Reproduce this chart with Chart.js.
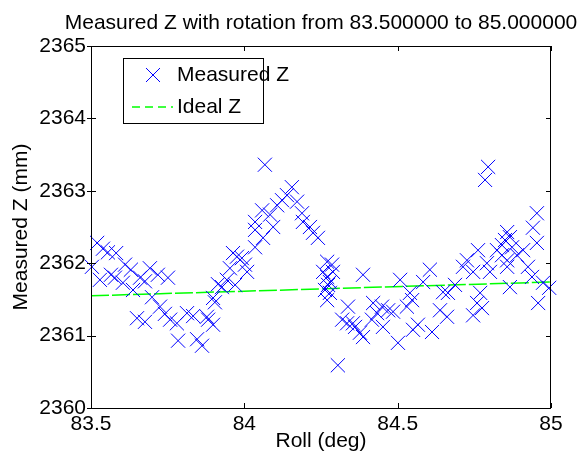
<!DOCTYPE html>
<html lang="en">
  <head>
    <meta charset="UTF-8" />
    <title>Measured Z</title>
    <style>
      body { margin: 0; background: #fff; }
    </style>
  </head>
  <body>
    <canvas id="myChart" width="584" height="461"></canvas>
    <script src="https://cdn.jsdelivr.net/npm/chart.js@4.4.1/dist/chart.umd.min.js"></script>
    <script>
      // values
      const rollDeg = [
        83.520, 83.539, 83.582, 83.503, 83.529, 83.565, 83.578, 83.611, 83.630, 83.604,
        83.637, 83.676, 83.699, 83.718, 83.751, 83.650, 83.676, 83.725, 83.741, 83.758,
        83.780, 83.784, 83.813, 83.833, 83.846, 83.862, 83.878, 83.898, 83.898, 83.882,
        83.904, 83.914, 83.927, 83.943, 83.953, 83.970, 83.963, 83.976, 83.992, 84.002,
        84.009, 84.035, 84.061, 84.035, 84.035, 84.058, 84.084, 84.094, 84.067, 84.107,
        84.123, 84.139, 84.155, 84.172, 84.188, 84.191, 84.214, 84.224, 84.240, 83.555,
        83.660, 83.692,
        84.270, 84.286, 84.257, 84.289, 84.270, 84.279, 84.263, 84.279, 84.270, 84.273,
        84.387, 84.338, 84.319, 84.335, 84.354, 84.361, 84.377, 84.387, 84.305, 84.420,
        84.449, 84.433, 84.469, 84.416, 84.452, 84.501, 84.508, 84.547, 84.530, 84.550,
        84.566, 84.485, 84.612, 84.605, 84.583, 84.540, 84.638, 84.661, 84.648, 84.664,
        84.687, 84.713, 84.726, 84.746, 84.746, 84.759, 84.769, 84.775, 84.762, 84.791,
        84.801, 84.824, 84.840, 84.850, 84.857, 84.866, 84.857, 84.857, 84.866, 84.889,
        84.909, 84.925, 84.941, 84.954, 84.954, 84.938, 84.974, 84.958, 84.785, 84.795,
        84.994, 84.840, 84.873
      ];
      const measuredZ = [
        2362.28, 2362.20, 2362.14, 2361.95, 2361.77, 2361.84, 2361.80, 2361.98, 2361.91, 2361.73,
        2361.63, 2361.75, 2361.53, 2361.84, 2361.80, 2361.24, 2361.19, 2361.40, 2361.30, 2361.22,
        2361.17, 2360.93, 2361.31, 2361.27, 2360.95, 2360.86, 2361.26, 2361.15, 2361.52, 2361.22,
        2361.46, 2361.71, 2361.67, 2361.77, 2361.93, 2361.70, 2362.14, 2362.09, 2362.07, 2361.98,
        2361.88, 2362.22, 2362.35, 2362.46, 2362.57, 2362.73, 2362.67, 2362.50, 2363.36, 2362.80,
        2362.87, 2362.94, 2363.05, 2362.85, 2362.69, 2362.57, 2362.50, 2362.42, 2362.35, 2362.15,
        2361.80, 2361.93,
        2362.02, 2361.98, 2361.88, 2361.88, 2361.81, 2361.74, 2361.63, 2361.59, 2361.49, 2361.70,
        2361.84, 2361.40, 2361.22, 2361.17, 2361.17, 2361.12, 2361.04, 2360.98, 2360.59, 2361.45,
        2361.40, 2361.31, 2361.35, 2361.22, 2361.12, 2360.90, 2361.77, 2361.49, 2361.40, 2361.08,
        2361.15, 2361.33, 2361.05, 2361.91, 2361.74, 2361.59, 2361.35, 2361.26, 2361.60, 2361.59,
        2361.70, 2361.95, 2362.04, 2361.88, 2361.28, 2361.45, 2361.59, 2361.38, 2362.18, 2362.00,
        2361.88, 2362.18, 2362.11, 2362.32, 2362.43, 2362.36, 2362.04, 2361.95, 2361.67, 2362.11,
        2362.18, 2361.95, 2362.49, 2362.69, 2362.28, 2361.81, 2361.73, 2361.45, 2363.15, 2363.33,
        2361.66, 2362.25, 2362.22
      ];
      const idealRoll = [83.5, 85];
      const idealZ = [2361.55, 2361.74];

      const xTicks = [83.5, 84, 84.5, 85];
      const yTicks = [2360, 2361, 2362, 2363, 2364, 2365];

      const chartTitle = "Measured Z with rotation from 83.500000 to 85.000000";
      const FONT = "'Liberation Sans', Arial, Helvetica, sans-serif";

      const measuredPts = rollDeg.map((x, i) => ({ x: x, y: measuredZ[i] }));
      const idealPts = idealRoll.map((x, i) => ({ x: x, y: idealZ[i] }));

      // MATLAB-ish box, inward ticks, title and legend
      const matlabBox = {
        id: "matlabBox",
        afterDraw(chart) {
          const { ctx, chartArea: a, scales } = chart;
          ctx.save();
          ctx.strokeStyle = "#000";
          ctx.lineWidth = 1;
          ctx.strokeRect(a.left + 0.5, a.top + 0.5, a.right - a.left - 1, a.bottom - a.top);

          ctx.beginPath();
          xTicks.forEach((v) => {
            const px = Math.round(scales.x.getPixelForValue(v)) + 0.5;
            ctx.moveTo(px, a.bottom);
            ctx.lineTo(px, a.bottom - 5);
            ctx.moveTo(px, a.top);
            ctx.lineTo(px, a.top + 5);
          });
          yTicks.forEach((v) => {
            const py = Math.round(scales.y.getPixelForValue(v)) + 0.5;
            ctx.moveTo(a.left - 4, py);
            ctx.lineTo(a.left + 5, py);
            ctx.moveTo(a.right, py);
            ctx.lineTo(a.right - 5, py);
          });
          ctx.stroke();

          // title
          ctx.fillStyle = "#000";
          ctx.font = "21px " + FONT;
          ctx.textAlign = "center";
          ctx.textBaseline = "middle";
          ctx.fillText(chartTitle, (a.left + a.right) / 2, 23);

          // legend
          const ds = chart.data.datasets;
          ctx.fillStyle = "#fff";
          ctx.fillRect(123, 58, 140, 65);
          ctx.strokeStyle = "#000";
          ctx.strokeRect(123.5, 58.5, 140, 65);

          ctx.strokeStyle = ds[0].borderColor;
          ctx.beginPath();
          ctx.moveTo(146, 68);
          ctx.lineTo(160, 82);
          ctx.moveTo(160, 68);
          ctx.lineTo(146, 82);
          ctx.stroke();

          ctx.strokeStyle = ds[1].borderColor;
          ctx.lineWidth = 1.5;
          ctx.setLineDash([8, 5]);
          ctx.beginPath();
          ctx.moveTo(132, 107);
          ctx.lineTo(173, 107);
          ctx.stroke();
          ctx.setLineDash([]);

          ctx.fillStyle = "#000";
          ctx.textAlign = "left";
          ctx.fillText(ds[0].label, 177, 75);
          ctx.fillText(ds[1].label, 177, 107);
          ctx.restore();
        },
      };

      const ctx = document.getElementById("myChart").getContext("2d");

      const myChart = new Chart(ctx, {
        type: "scatter",
        data: {
          datasets: [
            {
              label: "Measured Z",
              data: measuredPts,
              pointStyle: "crossRot",
              pointRadius: 10,
              pointHoverRadius: 10,
              borderColor: "#0000ff",
              backgroundColor: "#0000ff",
              borderWidth: 1,
              clip: false,
            },
            {
              label: "Ideal Z",
              type: "line",
              data: idealPts,
              showLine: true,
              borderColor: "#00ff00",
              borderWidth: 1.5,
              borderDash: [18, 3],
              pointRadius: 0,
              fill: false,
            },
          ],
        },
        options: {
          responsive: false,
          animation: false,
          layout: {
            padding: { top: 46, right: 33, left: 0, bottom: 0 },
          },
          plugins: {
            legend: { display: false },
            title: { display: false },
            tooltip: { enabled: false },
          },
          scales: {
            x: {
              type: "linear",
              min: 83.5,
              max: 85,
              afterBuildTicks: (s) => {
                s.ticks = xTicks.map((v) => ({ value: v }));
              },
              afterFit: (s) => {
                s.height = 53;
              },
              grid: { display: false, drawTicks: false },
              border: { display: false },
              ticks: {
                color: "#000",
                padding: 4,
                maxRotation: 0,
                font: { family: FONT, size: 21 },
                callback: (v) => String(v),
              },
              title: {
                display: true,
                text: "Roll (deg)",
                color: "#000",
                font: { family: FONT, size: 21 },
                padding: { top: 0, bottom: 7 },
              },
            },
            y: {
              type: "linear",
              min: 2360,
              max: 2365,
              afterBuildTicks: (s) => {
                s.ticks = yTicks.map((v) => ({ value: v }));
              },
              afterFit: (s) => {
                s.width = 91;
              },
              grid: { display: false, drawTicks: false },
              border: { display: false },
              ticks: {
                color: "#000",
                padding: 5,
                font: { family: FONT, size: 21 },
                callback: (v) => String(v),
              },
              title: {
                display: true,
                text: "Measured Z (mm)",
                color: "#000",
                font: { family: FONT, size: 21 },
                padding: { top: 9, bottom: 0 },
              },
            },
          },
        },
        plugins: [matlabBox],
      });
    </script>
  </body>
</html>
